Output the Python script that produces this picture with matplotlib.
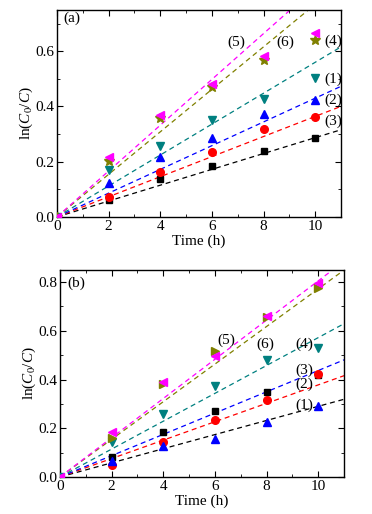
import matplotlib
matplotlib.use("Agg")
import matplotlib.pyplot as plt
import numpy as np
from matplotlib.ticker import MultipleLocator

plt.rcParams['font.family'] = ['Liberation Serif', 'DejaVu Serif']
plt.rcParams['mathtext.fontset'] = 'custom'
plt.rcParams['mathtext.it'] = 'Liberation Serif:italic'
plt.rcParams['mathtext.rm'] = 'Liberation Serif'

time = [0, 2, 4, 6, 8, 10]

# Panel (a)
a_black = [0, 0.063, 0.136, 0.185, 0.240, 0.285]
a_red = [0, 0.072, 0.162, 0.234, 0.319, 0.362]
a_blue = [0, 0.121, 0.217, 0.286, 0.371, 0.422]
a_cyan = [0, 0.171, 0.257, 0.350, 0.426, 0.502]
a_olive = [0, 0.203, 0.357, 0.470, 0.567, 0.639]
a_magenta = [0, 0.217, 0.369, 0.483, 0.582, 0.667]
a_slopes = [0.0287, 0.0364, 0.0430, 0.0560, 0.0770, 0.0830]

# Panel (b)
b_blue = [0, 0.064, 0.129, 0.157, 0.226, 0.290]
b_red = [0, 0.051, 0.142, 0.235, 0.317, 0.424]
b_black = [0, 0.082, 0.186, 0.269, 0.349, 0.420]
b_cyan = [0, 0.142, 0.260, 0.375, 0.481, 0.529]
b_olive = [0, 0.160, 0.383, 0.516, 0.655, 0.776]
b_magenta = [0, 0.185, 0.390, 0.498, 0.659, 0.796]
b_slopes = [0.0290, 0.0378, 0.0437, 0.0572, 0.0772, 0.0805]

colors = ['black', 'red', 'blue', '#008080', '#808000', '#ff00ff']

fig = plt.figure(figsize=(3.72, 5.14), dpi=100)
ax1 = fig.add_axes([0.153, 0.578, 0.764, 0.403])
ax2 = fig.add_axes([0.161, 0.072, 0.764, 0.403])

def draw(ax, series, markers, slopes, sizes):
    xl = np.array([0, 11])
    for s, m, c, k, ms in zip(series, markers, colors, slopes, sizes):
        ax.plot(xl, k * xl, ls=(0, (4, 3)), color=c, lw=0.9, zorder=1)
    for s, m, c, k, ms in zip(series, markers, colors, slopes, sizes):
        ax.plot(time, s, ls='none', marker=m, color=c, ms=ms, zorder=3)

def style(ax, ymax):
    ax.set_xlim(0, 11)
    ax.set_ylim(0, ymax)
    ax.xaxis.set_major_locator(MultipleLocator(2))
    ax.xaxis.set_minor_locator(MultipleLocator(1))
    ax.yaxis.set_major_locator(MultipleLocator(0.2))
    ax.yaxis.set_minor_locator(MultipleLocator(0.1))
    ax.tick_params(which='both', direction='in', top=True, right=True, labelsize=11, pad=2)
    ax.tick_params(which='major', length=4)
    ax.tick_params(which='minor', length=2.5)
    ax.set_yticklabels([f'{v:.1f}' for v in ax.get_yticks()])
    ax.set_xlabel('Time (h)', fontsize=11, labelpad=1)
    ax.set_ylabel(r'ln($C_0$/$C$)', fontsize=11, labelpad=0)
    for sp in ax.spines.values():
        sp.set_linewidth(1.0)

draw(ax1, [a_black, a_red, a_blue, a_cyan, a_olive, a_magenta],
     ['s', 'o', '^', 'v', '*', '<'], a_slopes, [5, 5.5, 5.5, 5.5, 7, 5.5])
style(ax1, 0.75)
ax1.text(0.25, 0.705, '(a)', fontsize=11)
for t, x, y in [('(5)', 6.6, 0.62), ('(6)', 8.5, 0.62), ('(4)', 10.35, 0.622),
                ('(1)', 10.35, 0.485), ('(2)', 10.35, 0.41), ('(3)', 10.35, 0.333)]:
    ax1.text(x, y, t, fontsize=11)

draw(ax2, [b_black, b_red, b_blue, b_cyan, b_olive, b_magenta],
     ['s', 'o', '^', 'v', '>', '<'], b_slopes, [5, 5.5, 5.5, 5.5, 5.5, 5.5])
style(ax2, 0.85)
ax2.text(0.3, 0.78, '(b)', fontsize=11)
for t, x, y in [('(5)', 6.1, 0.545), ('(6)', 7.6, 0.53), ('(4)', 9.1, 0.53),
                ('(3)', 9.1, 0.425), ('(2)', 9.1, 0.365), ('(1)', 9.1, 0.28)]:
    ax2.text(x, y, t, fontsize=11)

fig.savefig('out.png', dpi=100)
